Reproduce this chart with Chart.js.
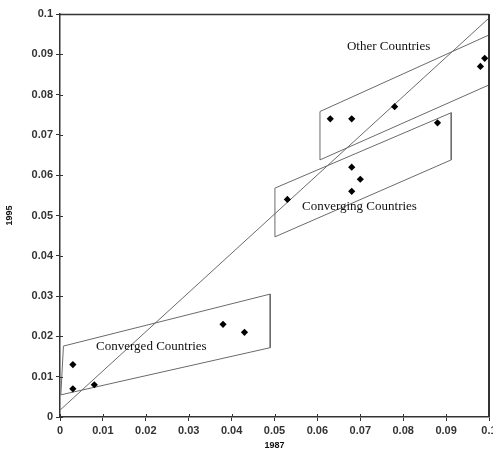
<!DOCTYPE html>
<html>
<head>
<meta charset="utf-8">
<script src="https://cdn.jsdelivr.net/npm/chart.js@4/dist/chart.umd.min.js"></script>
<style>
  html, body { margin: 0; padding: 0; background: #fff; }
  #wrap { width: 493px; height: 455px; }
</style>
</head>
<body>
<div id="wrap"><canvas id="grafico"></canvas></div>
<script>
// valores (1987 vs 1995)
var puntosX = [0.003, 0.003, 0.008, 0.038, 0.043, 0.053, 0.063, 0.068, 0.068, 0.070, 0.068, 0.078, 0.088, 0.098, 0.099];
var puntosY = [0.013, 0.007, 0.008, 0.023, 0.021, 0.054, 0.074, 0.074, 0.062, 0.059, 0.056, 0.077, 0.073, 0.087, 0.089];

// linea de 45 grados
var diagonalX = [0, 0.1];
var diagonalY = [0.0017, 0.099];

// cajas de los grupos
var otrosX = [0.0606, 0.1, 0.1, 0.0606, 0.0606];
var otrosY = [0.0758, 0.0948, 0.0824, 0.0638, 0.0758];
var convergiendoX = [0.0501, 0.0912, 0.0912, 0.0501, 0.0501];
var convergiendoY = [0.0568, 0.0755, 0.0638, 0.0447, 0.0568];
var convergidosX = [0.0008, 0.049, 0.049, 0.0002, 0.0008];
var convergidosY = [0.0176, 0.0305, 0.0172, 0.0055, 0.0176];

// textos de las cajas
var etiquetas = ["Other Countries", "Converging Countries", "Converged Countries"];
var etiquetasX = [0.0766, 0.0698, 0.0213];
var etiquetasY = [0.0918, 0.0521, 0.0174];

var ticksX = ["0", "0.01", "0.02", "0.03", "0.04", "0.05", "0.06", "0.07", "0.08", "0.09", "0.1"];
var ticksY = ["0", "0.01", "0.02", "0.03", "0.04", "0.05", "0.06", "0.07", "0.08", "0.09", "0.1"];

function pares(xs, ys) {
  var out = [];
  for (var i = 0; i < xs.length; i++) out.push({ x: xs[i], y: ys[i] });
  return out;
}

function linea(xs, ys) {
  return {
    type: 'line',
    data: pares(xs, ys),
    borderColor: '#6a6a6a',
    borderWidth: 1,
    pointRadius: 0,
    fill: false,
    tension: 0,
    clip: 2
  };
}

var marco = {
  id: 'marco',
  afterDraw: function (chart) {
    var ctx = chart.ctx;
    var a = chart.chartArea;
    ctx.save();
    ctx.strokeStyle = '#333';
    ctx.lineWidth = 1.5;
    ctx.beginPath();
    ctx.moveTo(a.left, a.top + 0.5);
    ctx.lineTo(a.right, a.top + 0.5);
    ctx.stroke();
    ctx.lineWidth = 2;
    ctx.beginPath();
    ctx.moveTo(a.right, a.top);
    ctx.lineTo(a.right, a.bottom);
    ctx.stroke();
    // marcas hacia adentro
    ctx.lineWidth = 1;
    var sx = chart.scales.x, sy = chart.scales.y;
    for (var i = 0; i <= 10; i++) {
      var px = Math.round(sx.getPixelForValue(i / 100)) + 0.5;
      ctx.beginPath();
      ctx.moveTo(px, a.bottom);
      ctx.lineTo(px, a.bottom - 3);
      ctx.stroke();
      var py = Math.round(sy.getPixelForValue(i / 100)) + 0.5;
      ctx.beginPath();
      ctx.moveTo(a.left, py);
      ctx.lineTo(a.left + 3, py);
      ctx.stroke();
    }
    // textos
    ctx.fillStyle = '#111';
    ctx.font = '13px "Liberation Serif", "Times New Roman", serif';
    ctx.textAlign = 'center';
    ctx.textBaseline = 'middle';
    for (var j = 0; j < etiquetas.length; j++) {
      ctx.fillText(etiquetas[j], sx.getPixelForValue(etiquetasX[j]), sy.getPixelForValue(etiquetasY[j]));
    }
    ctx.restore();
  }
};

var fuenteTicks = { family: '"Liberation Sans", Arial, sans-serif', size: 11, weight: 'bold' };

var ctx = document.getElementById('grafico').getContext('2d');
var grafico = new Chart(ctx, {
  type: 'scatter',
  data: {
    datasets: [
      {
        data: pares(puntosX, puntosY),
        pointStyle: 'rectRot',
        pointRadius: 3.6,
        backgroundColor: '#000',
        borderColor: '#000',
        borderWidth: 0
      },
      linea(diagonalX, diagonalY),
      linea(otrosX, otrosY),
      linea(convergiendoX, convergiendoY),
      linea(convergidosX, convergidosY)
    ]
  },
  options: {
    responsive: true,
    maintainAspectRatio: false,
    animation: false,
    layout: { padding: { top: 14, right: 2, left: 0, bottom: 0 } },
    plugins: { legend: { display: false }, tooltip: { enabled: false } },
    scales: {
      x: {
        type: 'linear',
        min: 0,
        max: 0.1,
        border: { color: '#333', width: 1.5 },
        grid: { drawOnChartArea: false, tickLength: 4, color: '#333' },
        ticks: {
          stepSize: 0.01,
          color: '#333',
          font: fuenteTicks,
          padding: 3,
          maxRotation: 0,
          callback: function (v, i) { return ticksX[i]; }
        },
        title: {
          display: true,
          text: '1987',
          color: '#111',
          font: { family: '"Liberation Sans", Arial, sans-serif', size: 9, weight: 'bold' }
        },
        afterFit: function (s) { s.height = 38; s.paddingLeft = 0; s.paddingRight = 0; }
      },
      y: {
        type: 'linear',
        min: 0,
        max: 0.1,
        border: { color: '#333', width: 1.5 },
        grid: { drawOnChartArea: false, tickLength: 4, color: '#333' },
        ticks: {
          stepSize: 0.01,
          color: '#333',
          font: fuenteTicks,
          padding: 3,
          callback: function (v, i) { return ticksY[i]; }
        },
        title: {
          display: true,
          text: '1995',
          color: '#111',
          font: { family: '"Liberation Sans", Arial, sans-serif', size: 9, weight: 'bold' }
        },
        afterFit: function (s) { s.width = 60; s.paddingTop = 0; s.paddingBottom = 0; }
      }
    }
  },
  plugins: [marco]
});
</script>
</body>
</html>
